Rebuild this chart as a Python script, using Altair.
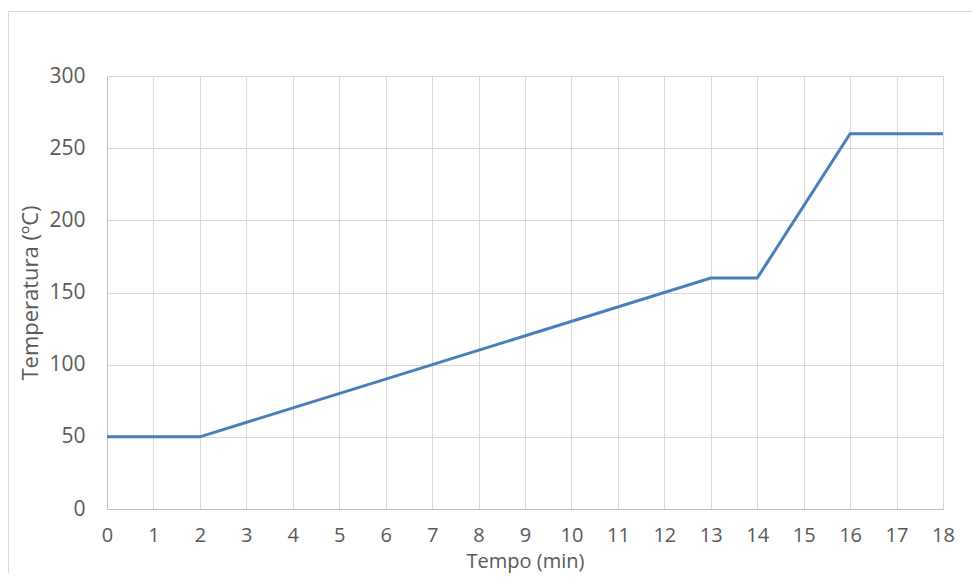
import altair as alt
import pandas as pd

# Breakpoints of the temperature program
tempo = [0, 2, 13, 14, 16, 18]
temperatura = [50, 50, 160, 160, 260, 260]

x_ticks = list(range(0, 19))
y_ticks = [0, 50, 100, 150, 200, 250, 300]

df = pd.DataFrame({"Tempo": tempo, "Temperatura": temperatura})

W, H = 836, 433
PAD_L, PAD_T, PAD_R, PAD_B = 99, 68, 29, 64

FONT = "Open Sans"
TXT = "#595959"
GRID = "#d9d9d9"

line = alt.Chart(df).mark_line(color="#4a7ebb", strokeWidth=3).encode(
    x=alt.X(
        "Tempo:Q",
        scale=alt.Scale(domain=[0, 18], nice=False, zero=False),
        axis=alt.Axis(
            values=x_ticks,
            title="Tempo (min)",
            grid=True,
            gridColor=GRID,
            domainColor="#bfbfbf",
            ticks=False,
            labelFlush=False,
            labelOverlap=False,
            labelPadding=16,
            labelFont=FONT,
            labelFontSize=20,
            labelColor=TXT,
            titleFont=FONT,
            titleFontSize=20,
            titleFontWeight="normal",
            titleColor=TXT,
            titlePadding=6,
        ),
    ),
    y=alt.Y(
        "Temperatura:Q",
        scale=alt.Scale(domain=[0, 300], nice=False),
        axis=alt.Axis(
            values=y_ticks,
            title="Temperatura (ºC)",
            grid=True,
            gridColor=GRID,
            domainColor="#bfbfbf",
            ticks=False,
            labelFlush=False,
            labelPadding=22,
            labelFont=FONT,
            labelFontSize=21,
            labelColor=TXT,
            titleFont=FONT,
            titleFontSize=22,
            titleFontWeight="normal",
            titleColor=TXT,
            titlePadding=6,
        ),
    ),
)

# Outer chart-area border (left and top edges visible in the reference)
border_left = alt.Chart(df).mark_rule(color=GRID, strokeWidth=1, clip=False).encode(
    x=alt.value(-98.5), y=alt.value(-64.5), y2=alt.value(H + PAD_B + 10)
)
border_top = alt.Chart(df).mark_rule(color=GRID, strokeWidth=1, clip=False).encode(
    x=alt.value(-98.5), x2=alt.value(W + PAD_R + 10), y=alt.value(-64.5)
)

chart = (
    alt.layer(border_left, border_top, line)
    .properties(
        width=W,
        height=H,
        autosize=alt.AutoSizeParams(type="none"),
        padding={"left": PAD_L, "top": PAD_T, "right": PAD_R, "bottom": PAD_B},
        background="white",
    )
    .configure_view(stroke=None)
)

chart.save("out.html", embed_options={"renderer": "svg", "actions": False})
